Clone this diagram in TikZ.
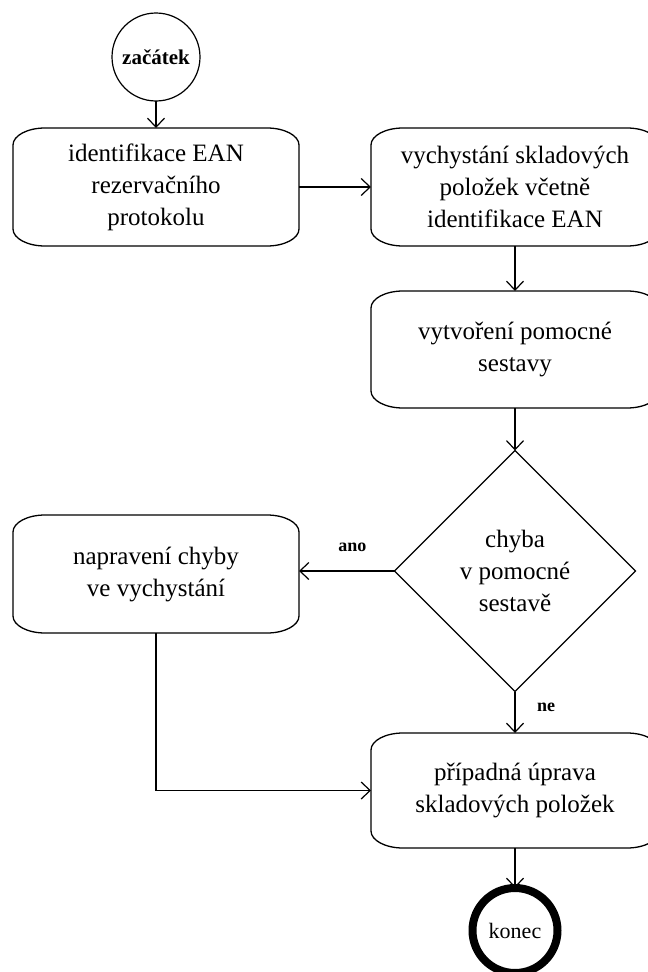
\documentclass[tikz,border=0pt]{standalone}
\usepackage{fontspec}
\setmainfont{Liberation Serif}
\usetikzlibrary{arrows.meta,shapes.geometric}
% outline with elliptic corners drawn round a rectangular node
\newcommand\ellframe[1]{%
  \draw[boxline] ([xshift=32pt]#1.north west) -- ([xshift=-32pt]#1.north east)
    arc[start angle=90, end angle=0, x radius=32pt, y radius=17pt]
    -- ([yshift=17pt]#1.south east)
    arc[start angle=0, end angle=-90, x radius=32pt, y radius=17pt]
    -- ([xshift=32pt]#1.south west)
    arc[start angle=-90, end angle=-180, x radius=32pt, y radius=17pt]
    -- ([yshift=-17pt]#1.north west)
    arc[start angle=180, end angle=90, x radius=32pt, y radius=17pt] -- cycle;}
\begin{document}
\begin{tikzpicture}[x=1pt,y=-1pt,
  every node/.style={inner sep=0pt, outer sep=0pt},
  boxline/.style={line width=1.3pt, line join=round},
  flowbox/.style={align=center, font=\fontsize{25}{32}\selectfont, minimum height=118pt},
  decision/.style={diamond, draw, line width=1.1pt, aspect=1, align=center,
    font=\fontsize{25}{32}\selectfont, minimum width=241pt, minimum height=241pt},
  terminal/.style={circle, draw, align=center},
  arr/.style={line width=1.4pt, -{Straight Barb[length=9pt,width=17pt,line width=1.2pt]}},
  answer/.style={font=\fontsize{18}{20}\selectfont\bfseries}]

\useasboundingbox (0,0) rectangle (648,972);
\clip (0,0) rectangle (648,972);

% start and end
\node[terminal, line width=1.2pt, minimum size=88pt,
      font=\fontsize{21}{24}\selectfont\bfseries] (start) at (156,57) {začátek};

% left column
\node[flowbox, minimum width=286pt] (ident) at (156,187)
  {identifikace EAN\\rezervačního\\protokolu};
\node[flowbox, minimum width=286pt] (fix) at (156,574)
  {napravení chyby\\ve vychystání};

% right column
\node[flowbox, minimum width=288pt] (pick) at (515,187)
  {vychystání skladových\\položek včetně\\identifikace EAN};
\node[flowbox, minimum width=288pt, minimum height=117pt] (report) at (515,349.5)
  {vytvoření pomocné\\sestavy};
\node[decision] (check) at (515,571)
  {chyba\\v pomocné\\sestavě};
\node[flowbox, minimum width=288pt, minimum height=115pt] (adjust) at (515,790.5)
  {případná úprava\\skladových položek};

\node[terminal, line width=8pt, minimum size=85pt,
      font=\fontsize{22}{24}\selectfont] (stop) at (515,930.5) {konec};

\foreach \n in {ident,fix,pick,report,adjust} {\ellframe{\n}}

% connectors
\draw[arr] (start) -- (ident);
\draw[arr] (ident) -- (pick);
\draw[arr] (pick) -- (report);
\draw[arr] (report) -- (check);
\draw[arr] (check.west) -- node[answer, pos=0.44, above=19pt] {ano} (check.west -| fix.east);
\draw[arr] (check.south) -- node[answer, pos=0.38, right=22pt] {ne} (adjust.north);
\draw[arr] (fix.south) -- (fix.south |- adjust.west) -- (adjust.west);
\draw[arr] (adjust) -- (stop);

\end{tikzpicture}
\end{document}
